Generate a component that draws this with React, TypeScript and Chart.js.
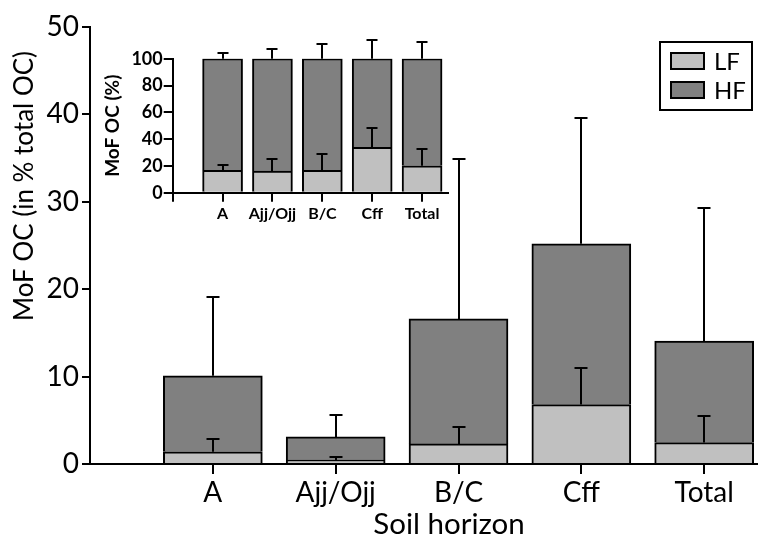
import React, { useEffect, useRef } from 'react';
import { Chart, registerables } from 'chart.js';

Chart.register(...registerables);

// ---- data ----
const categories = ['A', 'Ajj/Ojj', 'B/C', 'Cff', 'Total'];
const seriesLabels = ['LF', 'HF'];

// main chart: MoF OC (in % total OC)
const lfMain = [1.4, 0.45, 2.3, 6.8, 2.45];
const hfMain = [8.7, 2.65, 14.3, 18.4, 11.6];
const lfErrMain = [1.5, 0.4, 1.9, 4.2, 3.05];
const totalErrMain = [9.0, 2.5, 18.3, 14.4, 15.2];
const mainYTicks = [0, 10, 20, 30, 40, 50];

// inset: MoF OC (%)
const lfInset = [16.7, 16.2, 16.7, 33.9, 20.1];
const hfInset = [83.3, 83.8, 83.3, 66.1, 79.9];
const lfErrInset = [4.0, 8.7, 11.9, 14.1, 12.5];
const totalErrInset = [4.0, 7.5, 11.2, 14.0, 12.2];
const insetYTicks = [0, 20, 40, 60, 80, 100];

const LF_COLOR = '#c0c0c0';
const HF_COLOR = '#808080';
const FONT = 'Lato, "Open Sans", sans-serif';

const errorBarPlugin = {
  id: 'errorBars',
  afterDatasetsDraw(chart: any, _args: any, opts: any) {
    const { ctx } = chart;
    const yScale = chart.scales.y;
    const errs: number[][] = opts.errors || [];
    const cap = opts.cap || 12;
    ctx.save();
    ctx.strokeStyle = '#000';
    ctx.lineWidth = opts.lineWidth || 2;
    chart.data.datasets.forEach((_ds: any, d: number) => {
      const meta = chart.getDatasetMeta(d);
      meta.data.forEach((el: any, i: number) => {
        let base = 0;
        for (let k = 0; k <= d; k++) base += chart.data.datasets[k].data[i].y;
        const e = errs[d] ? errs[d][i] : 0;
        const yBar = yScale.getPixelForValue(base);
        const yTop = Math.round(yScale.getPixelForValue(base + e));
        const x = Math.round(el.x);
        ctx.beginPath();
        ctx.moveTo(x, yBar);
        ctx.lineTo(x, yTop);
        ctx.moveTo(x - cap / 2, yTop);
        ctx.lineTo(x + cap / 2, yTop);
        ctx.stroke();
      });
    });
    ctx.restore();
  },
};

const mainDecorPlugin = {
  id: 'mainDecor',
  afterDraw(chart: any) {
    const { ctx } = chart;
    ctx.save();
    ctx.fillStyle = '#000';
    ctx.textAlign = 'center';
    ctx.textBaseline = 'middle';
    // y title
    ctx.font = `26px ${FONT}`;
    ctx.save();
    ctx.translate(25, 186);
    ctx.rotate(-Math.PI / 2);
    ctx.fillText('MoF OC (in % total OC)', 0, 0);
    ctx.restore();
    // x title
    ctx.font = `29.5px ${FONT}`;
    ctx.fillText('Soil horizon', 449, 524);
    // legend
    ctx.lineWidth = 2;
    ctx.strokeStyle = '#000';
    ctx.fillStyle = '#fff';
    ctx.fillRect(660, 42, 92, 68);
    ctx.strokeRect(660, 42, 92, 68);
    const ds = chart.data.datasets;
    const rows = [53, 82];
    ds.forEach((d: any, i: number) => {
      ctx.fillStyle = d.backgroundColor;
      ctx.fillRect(671, rows[i], 33, 16);
      ctx.strokeRect(671, rows[i], 33, 16);
      ctx.fillStyle = '#000';
      ctx.font = `24px ${FONT}`;
      ctx.textAlign = 'left';
      ctx.textBaseline = 'middle';
      ctx.fillText(d.label, 714, rows[i] + 9);
    });
    ctx.restore();
  },
};

function MainChart() {
  const ref = useRef<HTMLCanvasElement>(null);
  useEffect(() => {
    if (!ref.current) return;
    const chart = new Chart(ref.current, {
      type: 'bar',
      data: {
        datasets: [
          {
            label: seriesLabels[0],
            data: lfMain.map((v, i) => ({ x: i + 1, y: v })),
            backgroundColor: LF_COLOR,
            borderColor: '#000',
            borderWidth: 2,
            borderSkipped: 'bottom',
            barThickness: 99,
          },
          {
            label: seriesLabels[1],
            data: hfMain.map((v, i) => ({ x: i + 1, y: v })),
            backgroundColor: HF_COLOR,
            borderColor: '#000',
            borderWidth: 2,
            borderSkipped: 'bottom',
            barThickness: 99,
          },
        ] as any,
      },
      options: {
        animation: false,
        responsive: false,
        events: [],
        layout: { padding: { top: 27, right: 4, left: 0, bottom: 0 } },
        plugins: {
          legend: { display: false },
          tooltip: { enabled: false },
          errorBars: { errors: [lfErrMain, totalErrMain], cap: 13, lineWidth: 2 },
        } as any,
        scales: {
          x: {
            type: 'linear',
            min: 0,
            max: 5.43,
            stacked: true,
            offset: false,
            afterBuildTicks: (s: any) => {
              s.ticks = categories.map((_c, i) => ({ value: i + 1 }));
            },
            afterFit: (s: any) => {
              s.height = 73;
            },
            grid: { offset: false, drawOnChartArea: false, tickLength: 10, color: '#000', lineWidth: 2 },
            border: { color: '#000', width: 2 },
            ticks: {
              callback: (v: any) => categories[Math.round(v) - 1] ?? '',
              font: { family: FONT, size: 28 },
              color: '#000',
              padding: 2,
              maxRotation: 0,
              autoSkip: false,
            },
          } as any,
          y: {
            stacked: true,
            min: 0,
            max: 50,
            afterBuildTicks: (s: any) => {
              s.ticks = mainYTicks.map((v) => ({ value: v }));
            },
            afterFit: (s: any) => {
              s.width = 90;
            },
            grid: { drawOnChartArea: false, tickLength: 8, color: '#000', lineWidth: 2 },
            border: { color: '#000', width: 2 },
            ticks: { font: { family: FONT, size: 28 }, color: '#000', padding: 3 },
          },
        },
      },
      plugins: [errorBarPlugin, mainDecorPlugin],
    });
    return () => chart.destroy();
  }, []);
  return <canvas ref={ref} width={761} height={537} style={{ position: 'absolute', left: 0, top: 0, display: 'block' }} />;
}

function InsetChart() {
  const ref = useRef<HTMLCanvasElement>(null);
  useEffect(() => {
    if (!ref.current) return;
    const chart = new Chart(ref.current, {
      type: 'bar',
      data: {
        datasets: [
          {
            label: seriesLabels[0],
            data: lfInset.map((v, i) => ({ x: i + 1, y: v })),
            backgroundColor: LF_COLOR,
            borderColor: '#000',
            borderWidth: 2,
            borderSkipped: 'bottom',
            barThickness: 40,
          },
          {
            label: seriesLabels[1],
            data: hfInset.map((v, i) => ({ x: i + 1, y: v })),
            backgroundColor: HF_COLOR,
            borderColor: '#000',
            borderWidth: 2,
            borderSkipped: 'bottom',
            barThickness: 40,
          },
        ] as any,
      },
      options: {
        animation: false,
        responsive: false,
        events: [],
        layout: { padding: { top: 38.7, right: 12, left: 0, bottom: 0 } },
        plugins: {
          legend: { display: false },
          tooltip: { enabled: false },
          errorBars: { errors: [lfErrInset, totalErrInset], cap: 11, lineWidth: 2 },
        } as any,
        scales: {
          x: {
            type: 'linear',
            min: 0,
            max: 5.52,
            stacked: true,
            offset: false,
            afterBuildTicks: (s: any) => {
              s.ticks = [0, 1, 2, 3, 4, 5].map((v) => ({ value: v }));
            },
            afterFit: (s: any) => {
              s.height = 47.3;
            },
            grid: { offset: false, drawOnChartArea: false, tickLength: 9, color: '#000', lineWidth: 2 },
            border: { color: '#000', width: 2 },
            ticks: {
              callback: (v: any) => categories[Math.round(v) - 1] ?? '',
              font: { family: FONT, size: 16, weight: 'bold' },
              color: '#000',
              padding: 3,
              maxRotation: 0,
              autoSkip: false,
            },
          } as any,
          y: {
            stacked: true,
            min: 0,
            max: 100,
            afterBuildTicks: (s: any) => {
              s.ticks = insetYTicks.map((v) => ({ value: v }));
            },
            afterFit: (s: any) => {
              s.width = 72.7;
            },
            title: {
              display: true,
              text: 'MoF OC (%)',
              font: { family: FONT, size: 19, weight: 'bold' },
              color: '#000',
              padding: { top: 1, bottom: 0 },
            },
            grid: { drawOnChartArea: false, tickLength: 9, color: '#000', lineWidth: 2 },
            border: { color: '#000', width: 2 },
            ticks: { font: { family: FONT, size: 18, weight: 'bold' }, color: '#000', padding: 1 },
          },
        },
      },
      plugins: [errorBarPlugin],
    });
    return () => chart.destroy();
  }, []);
  return <canvas ref={ref} width={360} height={220} style={{ position: 'absolute', left: 100, top: 20, display: 'block' }} />;
}

export default function App() {
  return (
    <div style={{ position: 'absolute', left: 0, top: 0, width: 761, height: 537, background: '#fff', overflow: 'hidden' }}>
      <MainChart />
      <InsetChart />
    </div>
  );
}
